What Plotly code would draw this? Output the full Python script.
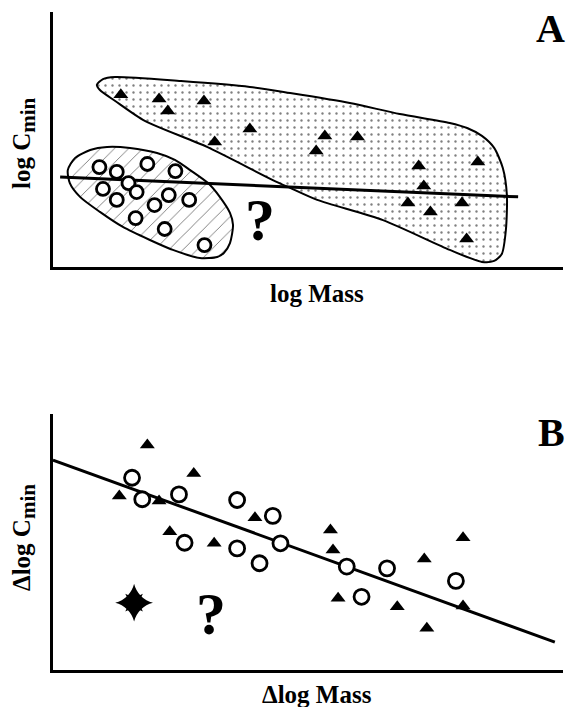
import plotly.graph_objects as go

# ---------------- Panel A (axis units 0-100) ----------------
a_tri_x = [13.3, 20.8, 22.5, 29.6, 31.7, 38.6, 53.3, 51.6, 59.7, 71.7, 83.3, 72.7, 69.6, 74.0, 80.2, 81.1]
a_tri_y = [67.5, 65.9, 61.2, 65.1, 49.0, 54.1, 51.4, 45.5, 51.0, 39.6, 41.2, 31.8, 25.1, 21.6, 25.1, 11.0]

a_circ_x = [9.1, 12.5, 18.5, 24.0, 14.8, 9.8, 16.4, 12.5, 22.7, 19.9, 26.7, 16.2, 21.9, 29.7]
a_circ_y = [39.2, 37.3, 40.4, 37.6, 32.9, 30.6, 29.4, 26.3, 28.2, 24.3, 26.3, 19.2, 14.9, 8.6]

a_fit_x = [1.4, 91.2]
a_fit_y = [35.3, 27.5]

upper_x = [8.6, 9.8, 12.2, 25.1, 38.6, 46.5, 58.2, 68.0, 77.8, 81.2, 84.1, 86.5, 88.2, 89.0, 88.8, 88.0,
           86.5, 84.1, 77.8, 64.7, 51.8, 46.5, 43.1, 30.2, 18.0, 12.2, 9.2, 8.6]
upper_y = [71.4, 73.7, 74.5, 72.9, 70.6, 68.2, 64.3, 60.0, 56.5, 54.5, 51.4, 46.7, 38.8, 28.2, 14.5, 5.1,
           2.4, 2.0, 6.7, 18.4, 26.3, 31.0, 34.1, 47.1, 57.3, 65.1, 69.4, 71.4]

lower_x = [2.9, 4.3, 7.3, 10.6, 15.1, 20.4, 23.9, 26.9, 30.4, 32.7, 34.7, 35.3, 34.7, 33.5, 32.2, 28.8,
           23.5, 19.0, 13.7, 9.2, 5.3, 3.3, 2.9]
lower_y = [38.0, 42.7, 45.9, 47.1, 46.7, 44.7, 42.0, 38.0, 32.9, 27.5, 21.2, 16.5, 9.4, 5.5, 3.9, 3.5,
           6.7, 10.6, 15.7, 21.6, 27.5, 32.9, 38.0]

a_q_x, a_q_y = 40.6, 18.5

# ---------------- Panel B ----------------
b_tri_x = [18.5, 27.6, 13.0, 20.8, 22.9, 31.6, 39.6, 54.4, 54.9, 72.8, 80.4, 55.9, 67.5, 80.4, 73.3]
b_tri_y = [87.9, 76.8, 68.0, 66.0, 54.0, 49.5, 59.5, 54.7, 46.9, 43.4, 51.7, 28.0, 24.7, 25.0, 16.3]

b_circ_x = [15.5, 17.5, 24.7, 36.1, 43.1, 25.8, 36.1, 40.5, 44.6, 57.6, 65.5, 60.5, 79.0]
b_circ_y = [75.1, 66.7, 68.6, 66.4, 60.2, 49.7, 47.5, 41.7, 49.5, 40.4, 39.7, 28.6, 34.8]

b_star_x = [15.9]
b_star_y = [26.3]

b_fit_x = [0.0, 98.4]
b_fit_y = [82.0, 10.9]

b_q_x, b_q_y = 31.0, 22.0

SERIF = "Liberation Serif"
fig = go.Figure()

# Panel A blobs
fig.add_trace(go.Scatter(
    x=upper_x, y=upper_y, mode="lines", fill="toself",
    line=dict(color="black", width=2, shape="spline", smoothing=0.7),
    fillcolor="white",
    fillpattern=dict(shape=".", fgcolor="black", bgcolor="white", size=7, solidity=0.09),
    hoverinfo="skip", xaxis="x", yaxis="y"))
fig.add_trace(go.Scatter(
    x=lower_x, y=lower_y, mode="lines", fill="toself",
    line=dict(color="black", width=2, shape="spline", smoothing=0.7),
    fillcolor="white",
    fillpattern=dict(shape="/", fgcolor="black", bgcolor="white", size=10, solidity=0.08, fgopacity=0.6),
    hoverinfo="skip", xaxis="x", yaxis="y"))
fig.add_trace(go.Scatter(x=a_fit_x, y=a_fit_y, mode="lines", line=dict(color="black", width=3),
                         xaxis="x", yaxis="y"))
fig.add_trace(go.Scatter(x=a_tri_x, y=a_tri_y, mode="markers",
                         marker=dict(symbol="triangle-up", size=13, color="black", line=dict(width=0)),
                         xaxis="x", yaxis="y"))
fig.add_trace(go.Scatter(x=a_circ_x, y=a_circ_y, mode="markers",
                         marker=dict(symbol="circle", size=13, color="white", line=dict(color="black", width=2.8)),
                         xaxis="x", yaxis="y"))

# Panel B
fig.add_trace(go.Scatter(x=b_fit_x, y=b_fit_y, mode="lines", line=dict(color="black", width=3),
                         xaxis="x2", yaxis="y2"))
fig.add_trace(go.Scatter(x=b_tri_x, y=b_tri_y, mode="markers",
                         marker=dict(symbol="triangle-up", size=13, color="black", line=dict(width=0)),
                         xaxis="x2", yaxis="y2"))
fig.add_trace(go.Scatter(x=b_circ_x, y=b_circ_y, mode="markers",
                         marker=dict(symbol="circle", size=15, color="white", line=dict(color="black", width=2.8)),
                         xaxis="x2", yaxis="y2"))
fig.add_trace(go.Scatter(x=b_star_x, y=b_star_y, mode="markers",
                         marker=dict(symbol="star-diamond", size=27, color="black", line=dict(width=0)),
                         xaxis="x2", yaxis="y2"))
fig.add_trace(go.Scatter(x=b_star_x, y=b_star_y, mode="markers",
                         marker=dict(symbol="star-square", size=16, color="black", line=dict(width=0)),
                         xaxis="x2", yaxis="y2"))

W, H = 567, 707
xdom = [53 / W, 563 / W]
ydomA = [(H - 267) / H, (H - 12) / H]
ydomB = [(H - 670) / H, (H - 414) / H]

ax = dict(showline=True, linewidth=3, linecolor="black", showticklabels=False, ticks="",
          showgrid=False, zeroline=False, range=[0, 100], fixedrange=True)

fig.update_layout(
    width=W, height=H, margin=dict(l=0, r=0, t=0, b=0),
    paper_bgcolor="white", plot_bgcolor="white", showlegend=False,
    xaxis=dict(ax, domain=xdom, anchor="y"),
    yaxis=dict(ax, domain=ydomA, anchor="x"),
    xaxis2=dict(ax, domain=xdom, anchor="y2"),
    yaxis2=dict(ax, domain=ydomB, anchor="x2"),
)

def lab(text, x, y, size, angle=0, xref="paper", yref="paper"):
    fig.add_annotation(text=text, x=x, y=y, xref=xref, yref=yref, showarrow=False,
                       xanchor="center", yanchor="middle", textangle=angle,
                       font=dict(family=SERIF, size=size, color="black", weight="bold"))

SUB = "<sub><span style='font-size:21px'>min</span></sub>"
lab("A", 550 / W, 1 - 28 / H, 40)
lab("B", 551 / W, 1 - 432 / H, 40)
lab("log Mass", 317 / W, 1 - 293 / H, 25)
lab("Δlog Mass", 317 / W, 1 - 694 / H, 25)
lab("log C" + SUB, 24 / W, 1 - 143 / H, 25, angle=-90)
lab("Δlog C" + SUB, 24 / W, 1 - 538 / H, 25, angle=-90)
lab("?", a_q_x, a_q_y, 60, xref="x", yref="y")
lab("?", b_q_x, b_q_y, 60, xref="x2", yref="y2")

fig.write_html("out.html")
